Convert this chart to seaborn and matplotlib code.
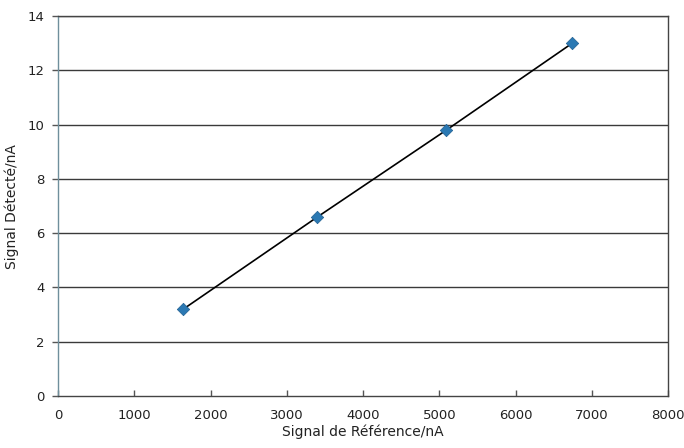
import numpy as np
import pandas as pd
import seaborn as sns
import matplotlib.pyplot as plt

# Data
ref_signal = [1640, 3400, 5090, 6740]
det_signal = [3.2, 6.6, 9.8, 13.0]
x_ticks = [0, 1000, 2000, 3000, 4000, 5000, 6000, 7000, 8000]
y_ticks = [0, 2, 4, 6, 8, 10, 12, 14]

df = pd.DataFrame({"ref": ref_signal, "det": det_signal})

sns.set_style("white")
plt.rcParams["font.family"] = ["DejaVu Sans"]

fig = plt.figure(figsize=(6.84, 4.48), dpi=100)
ax = fig.add_axes([0.085, 0.116, 0.892, 0.848])

# Horizontal grid
for yv in y_ticks[1:]:
    ax.axhline(yv, color="#3a3a3a", linewidth=1.0, zorder=0)

# Black line through the points
sns.lineplot(data=df, x="ref", y="det", color="black", linewidth=1.2, ax=ax, zorder=2)
# Blue diamond markers
sns.scatterplot(data=df, x="ref", y="det", marker="D", s=40, color="#2b79b3",
                edgecolor="#1f5f91", linewidth=0.5, ax=ax, zorder=3)

ax.set_xlim(0, 8000)
ax.set_ylim(0, 14)
ax.set_xticks(x_ticks)
ax.set_yticks(y_ticks)
ax.tick_params(axis="x", bottom=True, direction="in", length=4, width=1, pad=9,
               labelsize=9.5, colors="#555555", labelcolor="#222222")
ax.tick_params(axis="y", left=True, direction="out", length=4, width=1, pad=6,
               labelsize=9.5, colors="#555555", labelcolor="#222222")

ax.set_xlabel("Signal de Référence/nA", fontsize=10, color="#222222", labelpad=2)
ax.set_ylabel("Signal Détecté/nA", fontsize=10, color="#222222", labelpad=6)

for side in ["top", "right", "bottom"]:
    ax.spines[side].set_color("#444444")
    ax.spines[side].set_linewidth(1.0)
ax.spines["left"].set_color("#6f8f9c")
ax.spines["left"].set_linewidth(1.0)

fig.savefig("out.png", dpi=100)
